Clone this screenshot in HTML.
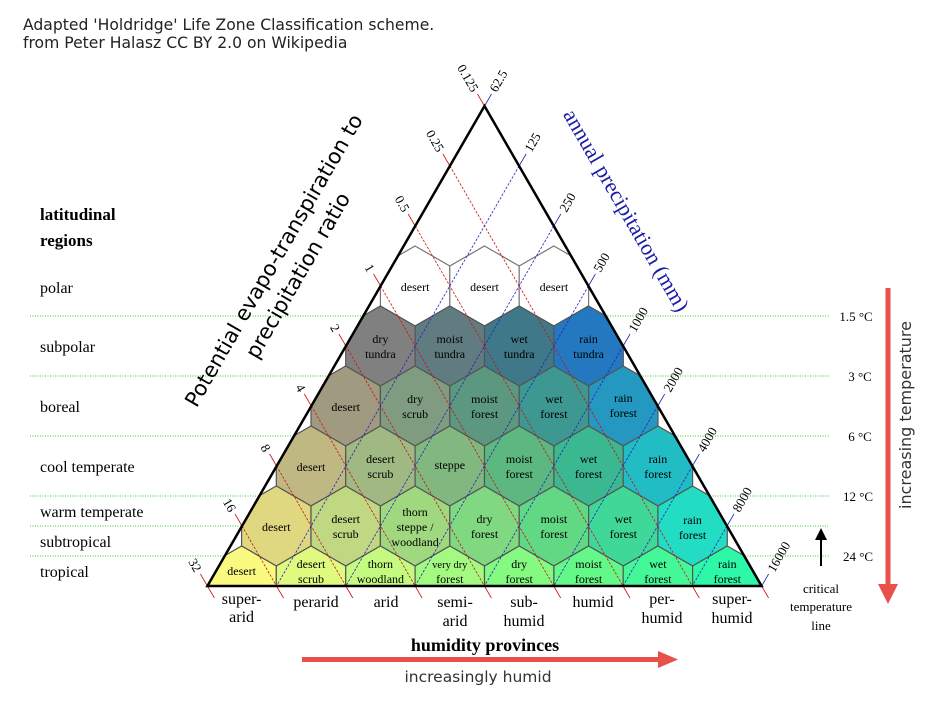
<!DOCTYPE html>
<html><head><meta charset="utf-8"><style>
html,body{margin:0;padding:0;background:#fff;}
svg{display:block;}
.hx{font-family:"Liberation Serif",serif;font-size:12px;fill:#000;text-anchor:middle;}
.lab{font-family:"Liberation Serif",serif;font-size:16px;fill:#000;}
.tk{font-family:"Liberation Serif",serif;font-size:13px;}
</style></head><body>
<svg width="945" height="713" viewBox="0 0 945 713" xmlns="http://www.w3.org/2000/svg">
<defs>
<clipPath id="tri"><polygon points="484.5,106 761.6,586 207.4,586"/></clipPath>
</defs>
<text x="23" y="30" font-family="DejaVu Sans, sans-serif" font-size="15.6" fill="#222">Adapted 'Holdridge' Life Zone Classification scheme.</text>
<text x="23" y="48" font-family="DejaVu Sans, sans-serif" font-size="15.6" fill="#222">from Peter Halasz CC BY 2.0 on Wikipedia</text>

<g stroke="#33cc33" stroke-width="1" stroke-dasharray="1,1.5">
<line x1="30" y1="316" x2="830" y2="316"/>
<line x1="30" y1="376" x2="830" y2="376"/>
<line x1="30" y1="436" x2="830" y2="436"/>
<line x1="30" y1="496" x2="830" y2="496"/>
<line x1="30" y1="526" x2="828" y2="526"/>
<line x1="30" y1="556" x2="830" y2="556"/>
</g>

<g clip-path="url(#tri)" stroke="#555" stroke-width="1.2">
<polygon points="0,-40 34.7,-20 34.7,20 0,40 -34.7,20 -34.7,-20" fill="#fff" stroke="#777" transform="translate(415.1,286)"/>
<polygon points="0,-40 34.7,-20 34.7,20 0,40 -34.7,20 -34.7,-20" fill="#fff" stroke="#777" transform="translate(484.5,286)"/>
<polygon points="0,-40 34.7,-20 34.7,20 0,40 -34.7,20 -34.7,-20" fill="#fff" stroke="#777" transform="translate(553.9,286)"/>
<polygon points="0,-40 34.7,-20 34.7,20 0,40 -34.7,20 -34.7,-20" fill="#808080" transform="translate(380.4,346)"/>
<polygon points="0,-40 34.7,-20 34.7,20 0,40 -34.7,20 -34.7,-20" fill="#607c80" transform="translate(449.8,346)"/>
<polygon points="0,-40 34.7,-20 34.7,20 0,40 -34.7,20 -34.7,-20" fill="#3f7888" transform="translate(519.2,346)"/>
<polygon points="0,-40 34.7,-20 34.7,20 0,40 -34.7,20 -34.7,-20" fill="#2478c0" transform="translate(588.6,346)"/>
<polygon points="0,-40 34.7,-20 34.7,20 0,40 -34.7,20 -34.7,-20" fill="#a09a80" transform="translate(345.7,406)"/>
<polygon points="0,-40 34.7,-20 34.7,20 0,40 -34.7,20 -34.7,-20" fill="#809c80" transform="translate(415.1,406)"/>
<polygon points="0,-40 34.7,-20 34.7,20 0,40 -34.7,20 -34.7,-20" fill="#5c9880" transform="translate(484.5,406)"/>
<polygon points="0,-40 34.7,-20 34.7,20 0,40 -34.7,20 -34.7,-20" fill="#3c9890" transform="translate(553.9,406)"/>
<polygon points="0,-40 34.7,-20 34.7,20 0,40 -34.7,20 -34.7,-20" fill="#2498c0" transform="translate(623.3,406)"/>
<polygon points="0,-40 34.7,-20 34.7,20 0,40 -34.7,20 -34.7,-20" fill="#c0b882" transform="translate(311,466)"/>
<polygon points="0,-40 34.7,-20 34.7,20 0,40 -34.7,20 -34.7,-20" fill="#a0b882" transform="translate(380.4,466)"/>
<polygon points="0,-40 34.7,-20 34.7,20 0,40 -34.7,20 -34.7,-20" fill="#80b880" transform="translate(449.8,466)"/>
<polygon points="0,-40 34.7,-20 34.7,20 0,40 -34.7,20 -34.7,-20" fill="#5cb880" transform="translate(519.2,466)"/>
<polygon points="0,-40 34.7,-20 34.7,20 0,40 -34.7,20 -34.7,-20" fill="#3cb890" transform="translate(588.6,466)"/>
<polygon points="0,-40 34.7,-20 34.7,20 0,40 -34.7,20 -34.7,-20" fill="#22bcc4" transform="translate(657.9,466)"/>
<polygon points="0,-40 34.7,-20 34.7,20 0,40 -34.7,20 -34.7,-20" fill="#e0d880" transform="translate(276.3,526)"/>
<polygon points="0,-40 34.7,-20 34.7,20 0,40 -34.7,20 -34.7,-20" fill="#c0d882" transform="translate(345.7,526)"/>
<polygon points="0,-40 34.7,-20 34.7,20 0,40 -34.7,20 -34.7,-20" fill="#a0d880" transform="translate(415.1,526)"/>
<polygon points="0,-40 34.7,-20 34.7,20 0,40 -34.7,20 -34.7,-20" fill="#80d880" transform="translate(484.5,526)"/>
<polygon points="0,-40 34.7,-20 34.7,20 0,40 -34.7,20 -34.7,-20" fill="#60d884" transform="translate(553.9,526)"/>
<polygon points="0,-40 34.7,-20 34.7,20 0,40 -34.7,20 -34.7,-20" fill="#40d898" transform="translate(623.3,526)"/>
<polygon points="0,-40 34.7,-20 34.7,20 0,40 -34.7,20 -34.7,-20" fill="#22dcc4" transform="translate(692.6,526)"/>
<polygon points="0,-40 34.7,-20 34.7,20 0,40 -34.7,20 -34.7,-20" fill="#fafa80" transform="translate(241.6,586)"/>
<polygon points="0,-40 34.7,-20 34.7,20 0,40 -34.7,20 -34.7,-20" fill="#e0fa80" transform="translate(311,586)"/>
<polygon points="0,-40 34.7,-20 34.7,20 0,40 -34.7,20 -34.7,-20" fill="#c4fa80" transform="translate(380.4,586)"/>
<polygon points="0,-40 34.7,-20 34.7,20 0,40 -34.7,20 -34.7,-20" fill="#a4fa80" transform="translate(449.8,586)"/>
<polygon points="0,-40 34.7,-20 34.7,20 0,40 -34.7,20 -34.7,-20" fill="#84fa80" transform="translate(519.2,586)"/>
<polygon points="0,-40 34.7,-20 34.7,20 0,40 -34.7,20 -34.7,-20" fill="#64f888" transform="translate(588.6,586)"/>
<polygon points="0,-40 34.7,-20 34.7,20 0,40 -34.7,20 -34.7,-20" fill="#44f898" transform="translate(657.9,586)"/>
<polygon points="0,-40 34.7,-20 34.7,20 0,40 -34.7,20 -34.7,-20" fill="#2cf8a8" transform="translate(727.3,586)"/>
</g>

<g stroke="#cc1111" stroke-width="0.8" fill="none">
<g stroke-dasharray="2.5,1.5">
<line x1="449.9" y1="166" x2="692.3" y2="586"/>
<line x1="415.2" y1="226" x2="623" y2="586"/>
<line x1="380.6" y1="286" x2="553.7" y2="586"/>
<line x1="345.9" y1="346" x2="484.4" y2="586"/>
<line x1="311.3" y1="406" x2="415.1" y2="586"/>
<line x1="276.6" y1="466" x2="345.8" y2="586"/>
<line x1="242" y1="526" x2="276.5" y2="586"/>
</g>
<line x1="484.5" y1="106" x2="477.5" y2="94"/>
<line x1="449.9" y1="166" x2="442.9" y2="154"/>
<line x1="415.2" y1="226" x2="408.2" y2="214"/>
<line x1="380.6" y1="286" x2="373.6" y2="274"/>
<line x1="345.9" y1="346" x2="338.9" y2="334"/>
<line x1="311.3" y1="406" x2="304.3" y2="394"/>
<line x1="276.6" y1="466" x2="269.6" y2="454"/>
<line x1="242" y1="526" x2="235" y2="514"/>
<line x1="207.4" y1="586" x2="200.4" y2="574"/>
<line x1="761.6" y1="586" x2="768.6" y2="598"/>
<line x1="692.3" y1="586" x2="699.3" y2="598"/>
<line x1="623" y1="586" x2="630" y2="598"/>
<line x1="553.7" y1="586" x2="560.7" y2="598"/>
<line x1="484.4" y1="586" x2="491.4" y2="598"/>
<line x1="415.1" y1="586" x2="422.1" y2="598"/>
<line x1="345.8" y1="586" x2="352.8" y2="598"/>
<line x1="276.5" y1="586" x2="283.5" y2="598"/>
<line x1="207.4" y1="586" x2="214.4" y2="598"/>
</g>
<g stroke="#2222bb" stroke-width="0.8" fill="none">
<g stroke-dasharray="2.5,1.5">
<line x1="519.1" y1="166" x2="276.5" y2="586"/>
<line x1="553.8" y1="226" x2="345.8" y2="586"/>
<line x1="588.4" y1="286" x2="415.1" y2="586"/>
<line x1="623.1" y1="346" x2="484.4" y2="586"/>
<line x1="657.7" y1="406" x2="553.7" y2="586"/>
<line x1="692.4" y1="466" x2="623" y2="586"/>
<line x1="727" y1="526" x2="692.3" y2="586"/>
</g>
<line x1="484.5" y1="106" x2="491.5" y2="94"/>
<line x1="519.1" y1="166" x2="526.1" y2="154"/>
<line x1="553.8" y1="226" x2="560.8" y2="214"/>
<line x1="588.4" y1="286" x2="595.4" y2="274"/>
<line x1="623.1" y1="346" x2="630.1" y2="334"/>
<line x1="657.7" y1="406" x2="664.7" y2="394"/>
<line x1="692.4" y1="466" x2="699.4" y2="454"/>
<line x1="727" y1="526" x2="734" y2="514"/>
<line x1="761.6" y1="586" x2="768.6" y2="574"/>
</g>

<polygon points="484.5,106 761.6,586 207.4,586" fill="none" stroke="#000" stroke-width="2.5" stroke-linejoin="miter"/>

<g class="tk" fill="#000" text-anchor="end">
<text transform="translate(475,91) rotate(60)" dy="4">0.125</text>
<text transform="translate(440.5,151) rotate(60)" dy="4">0.25</text>
<text transform="translate(406,211) rotate(60)" dy="4">0.5</text>
<text transform="translate(371,271) rotate(60)" dy="4">1</text>
<text transform="translate(336.5,331) rotate(60)" dy="4">2</text>
<text transform="translate(302,391) rotate(60)" dy="4">4</text>
<text transform="translate(267,451) rotate(60)" dy="4">8</text>
<text transform="translate(232.5,511) rotate(60)" dy="4">16</text>
<text transform="translate(198,571) rotate(60)" dy="4">32</text>
</g>
<g class="tk" fill="#000" text-anchor="start">
<text transform="translate(493,91) rotate(-60)" dy="4">62.5</text>
<text transform="translate(528,151) rotate(-60)" dy="4">125</text>
<text transform="translate(563,211) rotate(-60)" dy="4">250</text>
<text transform="translate(597,271) rotate(-60)" dy="4">500</text>
<text transform="translate(632,331) rotate(-60)" dy="4">1000</text>
<text transform="translate(667,391) rotate(-60)" dy="4">2000</text>
<text transform="translate(701,451) rotate(-60)" dy="4">4000</text>
<text transform="translate(736,511) rotate(-60)" dy="4">8000</text>
<text transform="translate(771,571) rotate(-60)" dy="4">16000</text>
</g>

<g class="hx">
<text x="415.1" y="291">desert</text><text x="484.5" y="291">desert</text><text x="553.9" y="291">desert</text>
<text x="380.4" y="343">dry</text><text x="380.4" y="358">tundra</text>
<text x="449.8" y="343">moist</text><text x="449.8" y="358">tundra</text>
<text x="519.2" y="343">wet</text><text x="519.2" y="358">tundra</text>
<text x="588.6" y="343">rain</text><text x="588.6" y="358">tundra</text>
<text x="345.7" y="411">desert</text>
<text x="415.1" y="403">dry</text><text x="415.1" y="418">scrub</text>
<text x="484.5" y="403">moist</text><text x="484.5" y="418">forest</text>
<text x="553.9" y="403">wet</text><text x="553.9" y="418">forest</text>
<text x="623.3" y="402">rain</text><text x="623.3" y="417">forest</text>
<text x="311" y="471">desert</text>
<text x="380.4" y="463">desert</text><text x="380.4" y="478">scrub</text>
<text x="449.8" y="469">steppe</text>
<text x="519.2" y="463">moist</text><text x="519.2" y="478">forest</text>
<text x="588.6" y="463">wet</text><text x="588.6" y="478">forest</text>
<text x="657.9" y="463">rain</text><text x="657.9" y="478">forest</text>
<text x="276.3" y="531">desert</text>
<text x="345.7" y="523">desert</text><text x="345.7" y="538">scrub</text>
<text x="415.1" y="516">thorn</text><text x="415.1" y="531">steppe /</text><text x="415.1" y="546">woodland</text>
<text x="484.5" y="523">dry</text><text x="484.5" y="538">forest</text>
<text x="553.9" y="523">moist</text><text x="553.9" y="538">forest</text>
<text x="623.3" y="523">wet</text><text x="623.3" y="538">forest</text>
<text x="692.6" y="524">rain</text><text x="692.6" y="539">forest</text>
<text x="241.6" y="575">desert</text>
<text x="311" y="568">desert</text><text x="311" y="583">scrub</text>
<text x="380.4" y="568">thorn</text><text x="380.4" y="583">woodland</text>
<text x="449.8" y="568" font-size="10.5">very dry</text><text x="449.8" y="583">forest</text>
<text x="519.2" y="568">dry</text><text x="519.2" y="583">forest</text>
<text x="588.6" y="568">moist</text><text x="588.6" y="583">forest</text>
<text x="657.9" y="568">wet</text><text x="657.9" y="583">forest</text>
<text x="727.3" y="568">rain</text><text x="727.3" y="583">forest</text>
</g>

<g class="lab" font-size="15" text-anchor="middle">
<text x="241.6" y="604">super-</text><text x="241.6" y="622">arid</text>
<text x="316" y="607">perarid</text>
<text x="386" y="607">arid</text>
<text x="455" y="607">semi-</text><text x="455" y="626">arid</text>
<text x="524" y="607">sub-</text><text x="524" y="626">humid</text>
<text x="593" y="607">humid</text>
<text x="662" y="604">per-</text><text x="662" y="623">humid</text>
<text x="732" y="604">super-</text><text x="732" y="623">humid</text>
</g>

<text x="485" y="651" text-anchor="middle" font-family="Liberation Serif, serif" font-weight="bold" font-size="18">humidity provinces</text>
<rect x="302" y="657" width="360" height="5" fill="#e8504a"/>
<polygon points="658,651 658,668 678,659.5" fill="#e8504a"/>
<text x="478" y="682" text-anchor="middle" font-family="DejaVu Sans, sans-serif" font-size="15.5" fill="#333">increasingly humid</text>

<text x="40" y="220" font-family="Liberation Serif, serif" font-weight="bold" font-size="17">latitudinal</text>
<text x="40" y="246" font-family="Liberation Serif, serif" font-weight="bold" font-size="17">regions</text>
<g class="lab">
<text x="40" y="293">polar</text>
<text x="40" y="352">subpolar</text>
<text x="40" y="412">boreal</text>
<text x="40" y="472">cool temperate</text>
<text x="40" y="517">warm temperate</text>
<text x="40" y="547">subtropical</text>
<text x="40" y="577">tropical</text>
</g>

<g font-family="DejaVu Sans, sans-serif" font-size="21" fill="#000" text-anchor="middle">
<text transform="translate(280,264) rotate(-60)">Potential evapo-transpiration to</text>
<text transform="translate(304,279) rotate(-60)">precipitation ratio</text>
</g>
<text transform="translate(620,214) rotate(60)" text-anchor="middle" font-family="Liberation Serif, serif" font-size="22" fill="#1a1aa8">annual precipitation (mm)</text>

<g class="tk" font-size="13" text-anchor="middle" fill="#000">
<text x="856" y="321">1.5 °C</text>
<text x="860" y="381">3 °C</text>
<text x="860" y="441">6 °C</text>
<text x="858" y="501">12 °C</text>
<text x="858" y="561">24 °C</text>
<text x="821" y="593">critical</text>
<text x="821" y="611">temperature</text>
<text x="821" y="630">line</text>
</g>
<line x1="821" y1="566" x2="821" y2="538" stroke="#000" stroke-width="2"/>
<polygon points="815,540 827,540 821,528" fill="#000"/>

<rect x="885.5" y="288" width="5" height="298" fill="#e8504a"/>
<polygon points="878,584 898,584 888,604" fill="#e8504a"/>
<text transform="translate(911,415) rotate(-90)" text-anchor="middle" font-family="DejaVu Sans, sans-serif" font-size="16" fill="#333">increasing temperature</text>
</svg>
</body></html>
